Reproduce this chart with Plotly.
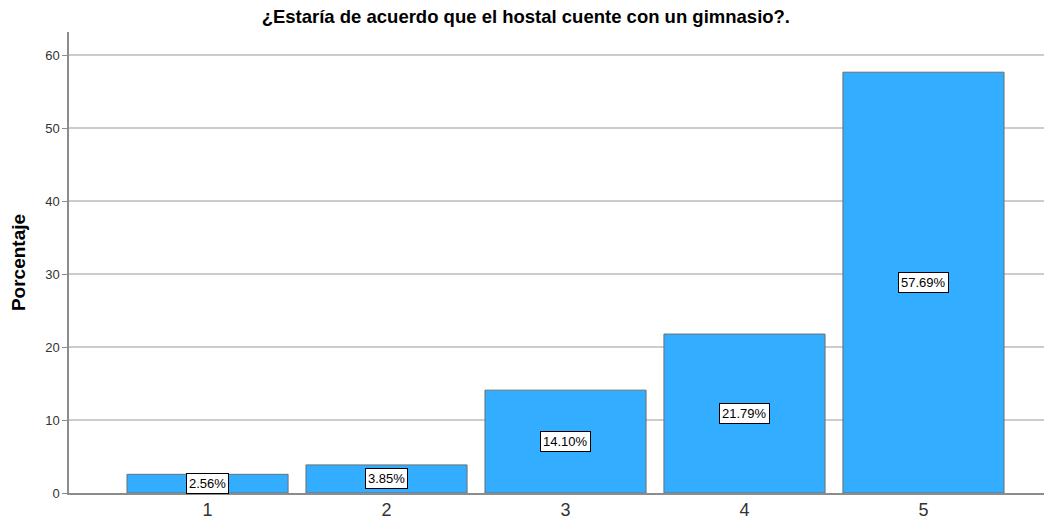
import plotly.graph_objs as go

# Datos
categorias = [1, 2, 3, 4, 5]
porcentajes = [2.56, 3.85, 14.10, 21.79, 57.69]
etiquetas = ["2.56%", "3.85%", "14.10%", "21.79%", "57.69%"]
titulo = "¿Estaría de acuerdo que el hostal cuente con un gimnasio?."

fig = go.Figure(go.Bar(
    x=categorias, y=porcentajes, width=0.9,
    marker=dict(color="#33adff", line=dict(color="#6e6e6e", width=1)),
    hoverinfo="skip"))

# Etiquetas con recuadro en la mitad de cada barra
for c, v, t in zip(categorias, porcentajes, etiquetas):
    fig.add_annotation(x=c, y=v / 2, text=t, showarrow=False,
                       font=dict(family="Arial", size=13, color="black"),
                       bgcolor="white", bordercolor="black", borderwidth=1, borderpad=2)

# la página tiene 8px de margen en el body -> figura algo más pequeña
fig.update_layout(
    width=1044, height=512,
    margin=dict(l=61, r=0, t=24, b=27),
    plot_bgcolor="white", paper_bgcolor="white",
    title=dict(text="<b>" + titulo + "</b>", x=0.496, xanchor="center", y=1, yanchor="top",
               pad=dict(t=2), font=dict(family="Arial", size=18.5, color="black")),
    showlegend=False,
    font=dict(family="Arial"),
)
fig.update_xaxes(range=[0.226, 5.718], tickvals=categorias, ticks="", showgrid=False,
                 showline=True, linecolor="#8c8c8c", linewidth=1.5, automargin=False,
                 ticklabelstandoff=0,
                 tickfont=dict(size=18, color="#333333"))
fig.update_yaxes(range=[0, 63.2], tickvals=[0, 10, 20, 30, 40, 50, 60],
                 showgrid=True, gridcolor="#cccccc", gridwidth=1.5,
                 showline=True, linecolor="#8c8c8c", linewidth=1.5, automargin=False,
                 ticks="outside", ticklen=5, tickcolor="#8c8c8c",
                 tickfont=dict(size=13, color="#333333"), zeroline=False,
                 title=dict(text="<b>Porcentaje</b>", font=dict(size=19, color="black"), standoff=16))

fig.write_html("out.html")
